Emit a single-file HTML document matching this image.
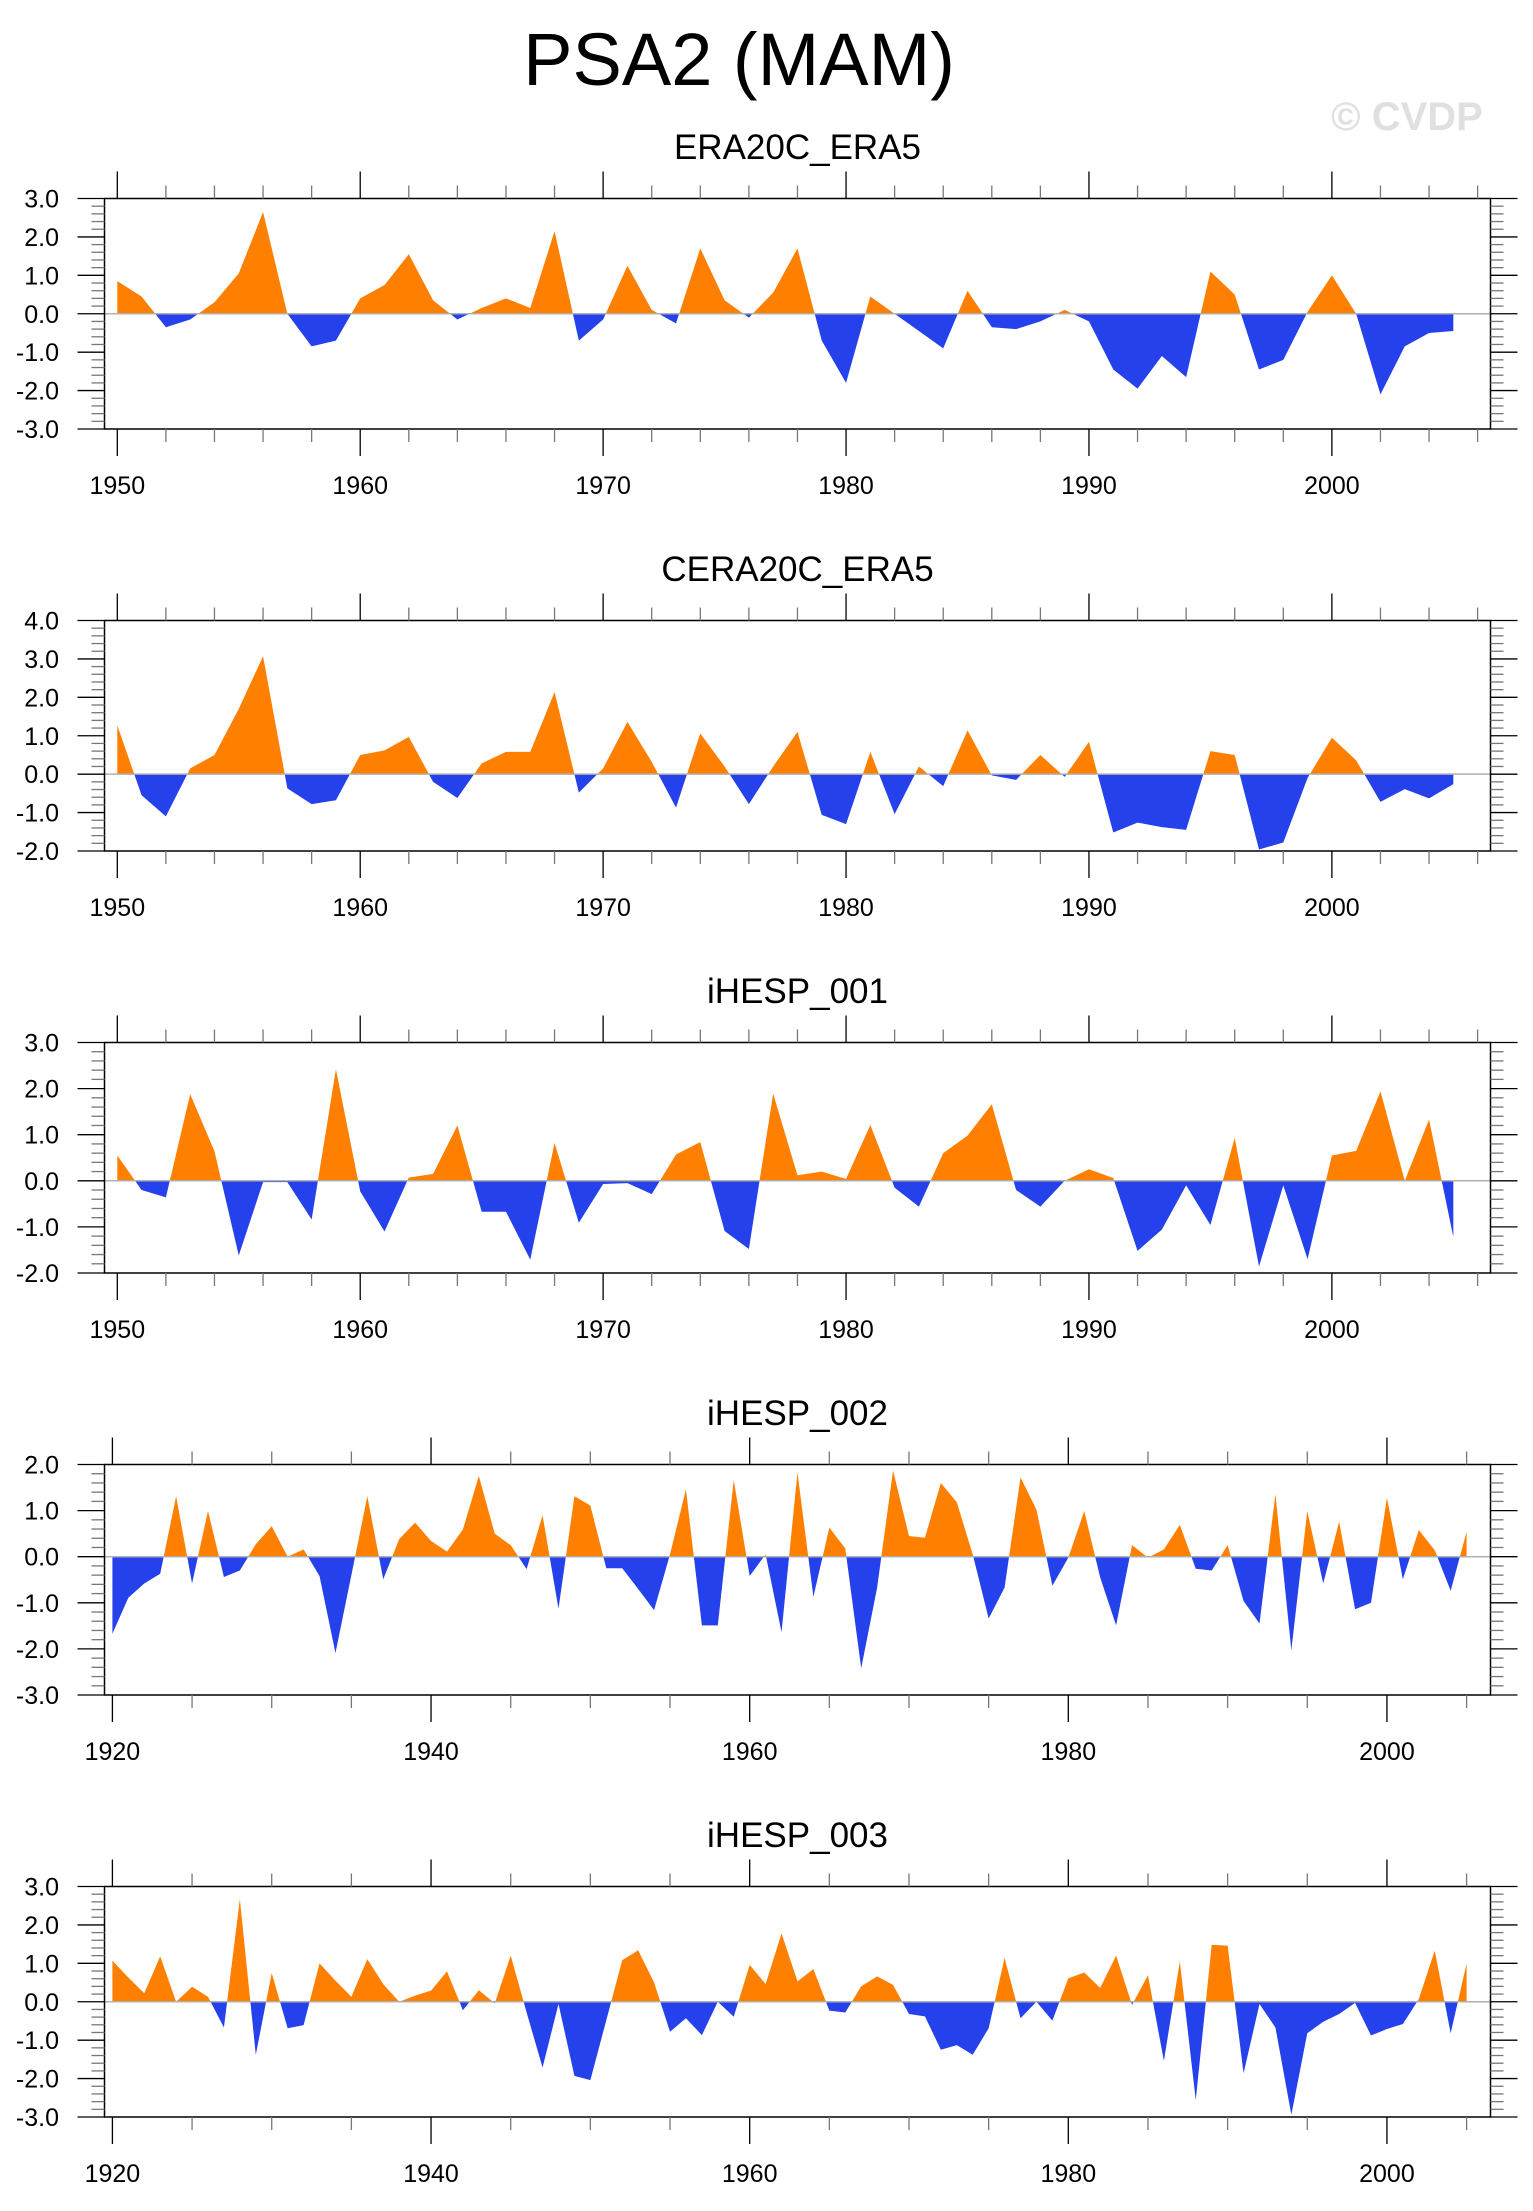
<!DOCTYPE html>
<html><head><meta charset="utf-8"><style>
html,body{margin:0;padding:0;background:#fff;}
svg{display:block;font-family:"Liberation Sans",Arial,sans-serif;}
</style></head><body>
<svg id="chart" width="1533" height="2211" viewBox="0 0 1533 2211" xmlns="http://www.w3.org/2000/svg">
<text x="739" y="85" font-size="74" text-anchor="middle" fill="#000">PSA2 (MAM)</text>
<text x="1407" y="130" font-size="40" font-weight="bold" text-anchor="middle" fill="#e0e0e0">© CVDP</text>
</svg>
<script>
const years1 = [1950,1951,1952,1953,1954,1955,1956,1957,1958,1959,1960,1961,1962,1963,1964,1965,1966,1967,1968,1969,1970,1971,1972,1973,1974,1975,1976,1977,1978,1979,1980,1981,1982,1983,1984,1985,1986,1987,1988,1989,1990,1991,1992,1993,1994,1995,1996,1997,1998,1999,2000,2001,2002,2003,2004,2005];
const era20c = [0.85,0.45,-0.35,-0.15,0.3,1.05,2.65,0.0,-0.85,-0.7,0.4,0.75,1.55,0.35,-0.15,0.15,0.4,0.15,2.15,-0.7,-0.15,1.25,0.1,-0.25,1.7,0.35,-0.1,0.55,1.7,-0.7,-1.8,0.45,0.0,-0.45,-0.9,0.6,-0.35,-0.4,-0.2,0.1,-0.2,-1.45,-1.95,-1.1,-1.65,1.1,0.5,-1.45,-1.2,0.05,1.0,0.0,-2.1,-0.85,-0.5,-0.45];
const cera20c = [1.27,-0.55,-1.1,0.15,0.5,1.7,3.07,-0.37,-0.78,-0.68,0.5,0.62,0.97,-0.2,-0.62,0.28,0.58,0.58,2.14,-0.48,0.15,1.36,0.32,-0.87,1.06,0.2,-0.78,0.2,1.1,-1.06,-1.3,0.58,-1.04,0.2,-0.31,1.14,-0.03,-0.15,0.5,-0.07,0.84,-1.52,-1.26,-1.38,-1.45,0.6,0.5,-1.96,-1.78,-0.1,0.95,0.36,-0.72,-0.39,-0.63,-0.26];
const ihesp001 = [0.55,-0.2,-0.36,1.88,0.64,-1.62,-0.03,-0.03,-0.84,2.42,-0.23,-1.1,0.07,0.15,1.2,-0.67,-0.67,-1.71,0.82,-0.91,-0.07,-0.05,-0.29,0.57,0.84,-1.09,-1.48,1.89,0.12,0.2,0.04,1.21,-0.15,-0.56,0.6,0.98,1.66,-0.2,-0.56,0.0,0.25,0.06,-1.52,-1.06,-0.1,-0.96,0.93,-1.86,-0.1,-1.7,0.55,0.65,1.94,0.0,1.33,-1.22];
const years2 = [];
for (let y = 1920; y <= 2005; y++) years2.push(y);
const ihesp002 = [-1.67,-0.89,-0.58,-0.37,1.31,-0.58,0.99,-0.44,-0.3,0.27,0.66,0.0,0.16,-0.42,-2.09,-0.4,1.31,-0.49,0.38,0.74,0.34,0.11,0.59,1.75,0.5,0.25,-0.27,0.9,-1.13,1.31,1.11,-0.25,-0.25,-0.7,-1.16,0.05,1.46,-1.49,-1.49,1.66,-0.42,0.05,-1.64,1.83,-0.87,0.63,0.18,-2.42,-0.67,1.87,0.45,0.41,1.6,1.18,0.05,-1.34,-0.67,1.72,1.02,-0.63,-0.02,0.99,-0.45,-1.49,0.25,-0.02,0.16,0.69,-0.26,-0.3,0.25,-0.96,-1.45,1.36,-2.03,0.99,-0.58,0.76,-1.14,-1.0,1.28,-0.49,0.58,0.14,-0.74,0.54];
const ihesp003 = [1.07,0.63,0.22,1.18,0.0,0.39,0.13,-0.67,2.67,-1.38,0.75,-0.69,-0.61,1.0,0.55,0.13,1.11,0.46,0.0,0.16,0.29,0.79,-0.22,0.3,-0.04,1.2,-0.28,-1.71,-0.06,-1.93,-2.04,-0.48,1.08,1.34,0.5,-0.78,-0.43,-0.87,0.0,-0.39,0.96,0.46,1.78,0.53,0.85,-0.23,-0.28,0.4,0.66,0.44,-0.32,-0.38,-1.25,-1.13,-1.38,-0.69,1.14,-0.43,0.0,-0.49,0.61,0.76,0.36,1.2,-0.08,0.69,-1.54,1.05,-2.56,1.48,1.46,-1.86,-0.06,-0.67,-2.94,-0.82,-0.52,-0.32,-0.03,-0.88,-0.71,-0.58,0.07,1.33,-0.82,1.0];
const titles = ["ERA20C_ERA5","CERA20C_ERA5","iHESP_001","iHESP_002","iHESP_003"];
const yTop = [3,4,3,2,3];
const yBot = [-3,-2,-2,-3,-3];

const NS = "http://www.w3.org/2000/svg";
const svg = document.getElementById('chart');
function mk(tag, attrs, parent) {
  const e = document.createElementNS(NS, tag);
  for (const k in attrs) e.setAttribute(k, attrs[k]);
  (parent || svg).appendChild(e);
  return e;
}
const L = 104.5, R = 1490.5, H = 230.5;
const panelTops = [198.5, 620.5, 1042.5, 1464.5, 1886.5];
const panels = [
  {years: years1, vals: era20c, x0: 1950, x1: 2006.53, major: 10, minor: 2, first: 1950},
  {years: years1, vals: cera20c, x0: 1950, x1: 2006.53, major: 10, minor: 2, first: 1950},
  {years: years1, vals: ihesp001, x0: 1950, x1: 2006.53, major: 10, minor: 2, first: 1950},
  {years: years2, vals: ihesp002, x0: 1920, x1: 2006.5, major: 20, minor: 5, first: 1920},
  {years: years2, vals: ihesp003, x0: 1920, x1: 2006.5, major: 20, minor: 5, first: 1920}
];
panels.forEach((p, pi) => {
  const top = panelTops[pi], bot = top + H;
  const vmax = yTop[pi], vmin = yBot[pi];
  const xStart = p.x0 - (p.major === 10 ? 12.8/24.29 : 7.9/15.93);
  const X = yr => L + (yr - xStart) / (p.x1 - xStart) * (R - L);
  const Y = v => top + (vmax - v) / (vmax - vmin) * H;
  const g = mk('g', {});
  
  
  const t = mk('text', {x: (L + R) / 2, y: top - 39.5, 'font-size': 35, 'text-anchor': 'middle', fill: '#000'}, g);
  t.textContent = titles[pi];
  
  
  const cid = 'c' + pi;
  const defs = mk('defs', {}, g);
  const cpU = mk('clipPath', {id: cid + 'u'}, defs);
  mk('rect', {x: L, y: top, width: R - L, height: Y(0) - top}, cpU);
  const cpD = mk('clipPath', {id: cid + 'd'}, defs);
  mk('rect', {x: L, y: Y(0), width: R - L, height: bot - Y(0)}, cpD);
  let d = 'M' + X(p.years[0]) + ',' + Y(0);
  p.years.forEach((yr, i) => { d += ' L' + X(yr).toFixed(2) + ',' + Y(p.vals[i]).toFixed(2); });
  d += ' L' + X(p.years[p.years.length - 1]) + ',' + Y(0) + ' Z';
  const pos = mk('path', {d: d, fill: '#ff8000', 'clip-path': 'url(#' + cid + 'u)'}, g);
  
  
  const neg = mk('path', {d: d, fill: '#2541ec', 'clip-path': 'url(#' + cid + 'd)'}, g);
  
  
  const zl = mk('line', {x1: L, x2: R, y1: Y(0), y2: Y(0), stroke: '#b0b0b0', 'stroke-width': 1.5}, g);
  
  
  const fr = mk('rect', {x: L, y: top, width: R - L, height: H, fill: 'none', stroke: '#000', 'stroke-width': 1.5}, g);
  
  
  for (let k = Math.round(vmin * 5); k <= Math.round(vmax * 5); k++) {
    const v = k / 5, yy = Y(v), major = (k % 5 === 0);
    const len = major ? 27 : 13;
    mk('line', {x1: L - len, x2: L, y1: yy, y2: yy, stroke: major ? '#000' : '#777', 'stroke-width': 1.3}, g);
    mk('line', {x1: R, x2: R + len, y1: yy, y2: yy, stroke: major ? '#000' : '#777', 'stroke-width': 1.3}, g);
    if (major) {
      const lb = mk('text', {x: 59, y: yy + 9, 'font-size': 25, 'text-anchor': 'end', fill: '#000'}, g);
      lb.textContent = v.toFixed(1);
      
      
    }
  }
  for (let yr = p.first; X(yr) <= R + 0.5; yr += p.minor) {
    const xx = X(yr), major = ((yr - p.first) % p.major === 0);
    const len = major ? 27 : 13;
    mk('line', {x1: xx, x2: xx, y1: top - len, y2: top, stroke: major ? '#000' : '#777', 'stroke-width': 1.3}, g);
    mk('line', {x1: xx, x2: xx, y1: bot, y2: bot + len, stroke: major ? '#000' : '#777', 'stroke-width': 1.3}, g);
    if (major) {
      const lb = mk('text', {x: xx, y: bot + 65, 'font-size': 25, 'text-anchor': 'middle', fill: '#000'}, g);
      lb.textContent = String(yr);
      
      
    }
  }
});
</script>
</body></html>
